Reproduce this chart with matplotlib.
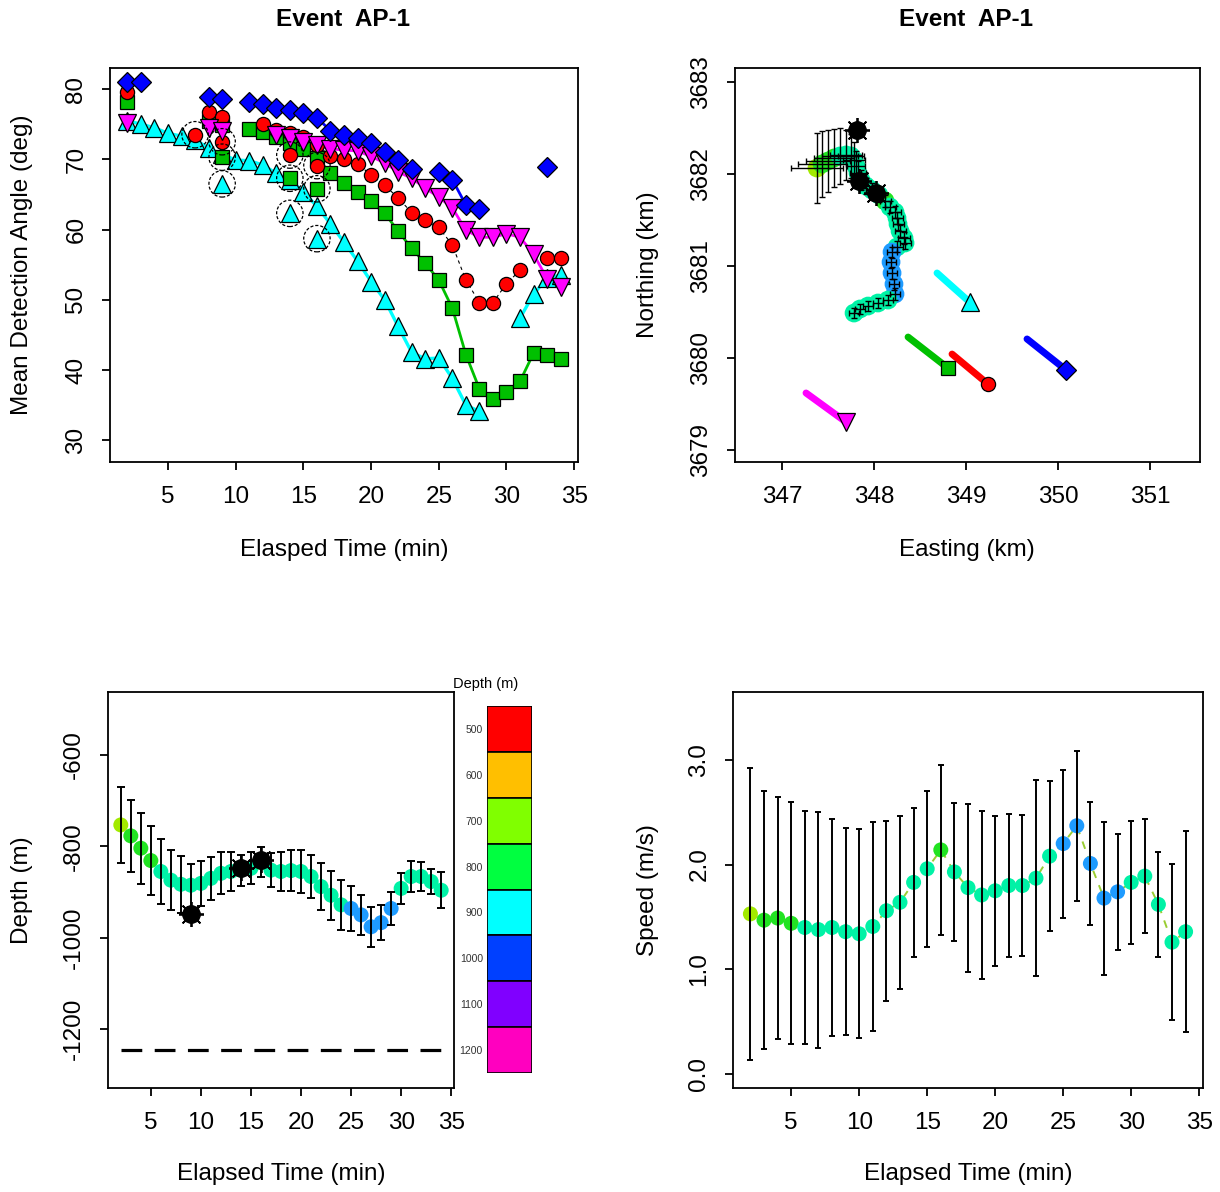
import numpy as np
import matplotlib
matplotlib.use("Agg")
import matplotlib.pyplot as plt
from matplotlib.colors import ListedColormap, BoundaryNorm

plt.rcParams['font.family'] = ['Liberation Sans', 'DejaVu Sans']
plt.rcParams['axes.linewidth'] = 1.3
plt.rcParams['axes.unicode_minus'] = False

nan = np.nan
minutes = np.arange(2, 35)

# ---------------- mean detection angle per receiver (deg) ----------------
angle_blue = [81.0, 81.0, nan, nan, nan, nan, 78.9, 78.6, nan, 78.1, 77.9, 77.3, 77.0,
              76.6, 75.9, 74.1, 73.5, 73.0, 72.3, 71.0, 69.9, 68.6, nan, 68.2, 67.1,
              63.5, 62.9, nan, nan, nan, nan, 68.9, nan]
angle_red = [79.6, nan, nan, nan, nan, nan, 76.7, 76.0, nan, nan, 75.0, 74.2, 73.7,
             73.2, 72.0, 70.5, 70.0, 69.3, 67.8, 66.3, 64.5, 62.4, 61.3, 60.3, 57.8,
             52.8, 49.6, 49.6, 52.3, 54.2, nan, 56.0, 56.0]
angle_green = [78.2, nan, nan, nan, nan, nan, 75.5, 74.9, nan, 74.3, 73.9, 73.2, 72.3,
               71.4, 70.2, 68.0, 66.6, 65.3, 64.0, 62.3, 59.8, 57.3, 55.2, 52.8, 48.8,
               42.2, 37.3, 35.8, 36.9, 38.4, 42.4, 42.1, 41.6]
angle_magenta = [75.2, nan, nan, nan, nan, nan, 74.4, 74.0, nan, nan, nan, 73.4, 73.0,
                 72.5, 72.0, 71.5, 71.3, 71.2, 70.4, 69.5, 68.2, 67.3, 65.9, 64.6, 63.1,
                 59.9, 58.9, 58.9, 59.4, 58.9, 56.5, 53.0, 51.8]
angle_cyan = [75.5, 75.0, 74.5, 73.7, 73.3, 72.8, 71.6, 70.7, 69.9, 69.8, 69.2, 68.0,
              67.0, 65.4, 63.3, 60.8, 58.2, 55.5, 52.6, 50.0, 46.2, 42.5, 41.6, 41.7,
              38.8, 35.0, 34.1, nan, nan, 47.4, 50.8, 53.1, 53.5]

# flagged detections (ringed)
flag_red_minutes = [7, 9, 14, 16]
flag_red = [73.5, 72.5, 70.6, 69.1]
flag_minutes = [9, 14, 16]
flag_green = [70.3, 67.3, 65.8]
flag_cyan = [66.5, 62.3, 58.7]

# ---------------- track (km) ----------------
track_e = [347.380, 347.435, 347.500, 347.565, 347.630, 347.696, 347.750, 347.783,
           347.804, 347.826, 347.859, 347.913, 347.978, 348.054, 348.120, 348.174,
           348.228, 348.250, 348.261, 348.283, 348.326, 348.337, 348.250, 348.196,
           348.185, 348.196, 348.217, 348.228, 348.152, 348.043, 347.935, 347.848,
           347.783]
track_n = [3682.065, 3682.109, 3682.141, 3682.174, 3682.196, 3682.207, 3682.196,
           3682.152, 3682.087, 3682.011, 3681.935, 3681.870, 3681.826, 3681.772,
           3681.707, 3681.641, 3681.587, 3681.522, 3681.457, 3681.380, 3681.304,
           3681.250, 3681.207, 3681.152, 3681.043, 3680.924, 3680.804, 3680.696,
           3680.630, 3680.598, 3680.565, 3680.533, 3680.489]
track_err_e = [0.28, 0.26, 0.24, 0.22, 0.20, 0.17, 0.14, 0.12, 0.10, 0.09, 0.08, 0.07,
               0.07, 0.06, 0.06, 0.06, 0.06, 0.06, 0.06, 0.06, 0.06, 0.06, 0.06, 0.05,
               0.05, 0.05, 0.05, 0.05, 0.05, 0.05, 0.05, 0.05, 0.05]
track_err_n = [0.38, 0.36, 0.34, 0.32, 0.30, 0.27, 0.24, 0.20, 0.16, 0.13, 0.11, 0.09,
               0.08, 0.08, 0.07, 0.07, 0.07, 0.07, 0.07, 0.07, 0.07, 0.06, 0.06, 0.06,
               0.06, 0.06, 0.06, 0.06, 0.05, 0.05, 0.05, 0.05, 0.05]
fix_e = [347.815, 347.837, 348.022]
fix_n = [3682.478, 3681.924, 3681.793]

# receiver drift (start -> end), order: cyan, green, red, blue, magenta
rx_start_e = [348.685, 348.370, 348.848, 349.663, 347.261]
rx_start_n = [3680.924, 3680.228, 3680.043, 3680.207, 3679.620]
rx_end_e = [349.038, 348.804, 349.239, 350.087, 347.696]
rx_end_n = [3680.609, 3679.891, 3679.717, 3679.870, 3679.304]

# ---------------- depth (m) ----------------
depth = [-753, -777, -804, -831, -855, -874, -883, -885, -881, -870, -859, -855, -852,
         -848, -835, -852, -855, -853, -855, -866, -888, -907, -928, -936, -950, -976,
         -967, -936, -892, -866, -866, -877, -896]
depth_err = [83, 78, 78, 76, 72, 65, 62, 47, 49, 47, 46, 42, 34, 35, 33, 38, 43, 45, 47,
             47, 51, 54, 55, 49, 44, 44, 38, 37, 34, 33, 31, 27, 39]
fix_minutes = [9, 14, 16]
fix_depth = [-947, -848, -830]
seafloor = -1245

# ---------------- speed (m/s) ----------------
speed = [1.53, 1.47, 1.49, 1.44, 1.40, 1.38, 1.40, 1.36, 1.34, 1.41, 1.56, 1.64, 1.83,
         1.96, 2.14, 1.93, 1.78, 1.71, 1.75, 1.80, 1.80, 1.87, 2.08, 2.20, 2.37, 2.01,
         1.68, 1.74, 1.83, 1.89, 1.62, 1.26, 1.36]
speed_err = [1.390, 1.229, 1.152, 1.154, 1.110, 1.124, 1.033, 0.989, 0.997, 0.992, 0.857,
             0.825, 0.712, 0.743, 0.810, 0.659, 0.802, 0.797, 0.713, 0.682, 0.673, 0.937,
             0.714, 0.705, 0.714, 0.588, 0.730, 0.551, 0.584, 0.540, 0.503, 0.743, 0.956]

# depth legend
legend_depths = [500, 600, 700, 800, 900, 1000, 1100, 1200]
legend_colors = ["#FF0000", "#FFBF00", "#80FF00", "#00FF40", "#00FFFF", "#0040FF",
                 "#8000FF", "#FF00BF"]

# depth classes used to colour the animal positions
class_edges = [-1300, -932, -840, -765, -400]
class_colors = ["#1E9BFF", "#00F2A6", "#22E322", "#A2EA00"]
depth_cmap = ListedColormap(class_colors)
depth_norm = BoundaryNorm(class_edges, depth_cmap.N)
point_colors = depth_cmap(depth_norm(np.array(depth)))

W, H = 1220, 1192
FS = 17.5
fig = plt.figure(figsize=(W / 100, H / 100), dpi=100)


def px_axes(l, t, r, b):
    return fig.add_axes([l / W, 1 - b / H, (r - l) / W, (b - t) / H])


def style(ax):
    ax.tick_params(direction='out', length=5.8, width=1.3, labelsize=FS)
    ax.tick_params(axis='x', pad=11.5)
    ax.tick_params(axis='y', pad=10.5, labelrotation=90)
    for lab in ax.get_yticklabels():
        lab.set_va('center')


def label(x, y, s, rot=0, **kw):
    fig.text(x / W, 1 - y / H, s, ha='center', va='center', rotation=rot,
             fontsize=FS, **kw)


# ================= detection angle =================
ax1 = px_axes(110, 68, 578, 462)
t = minutes
ax1.plot(t, angle_cyan, color='cyan', lw=2.4, zorder=2)
ax1.plot(t, angle_green, color='#00C000', lw=2.0, zorder=2)
ax1.plot(t, angle_red, color='black', lw=0.8, ls=(0, (3, 3)), zorder=2)
ax1.plot(t, angle_magenta, color='magenta', lw=2.0, zorder=2)
ax1.plot(t, angle_blue, color='blue', lw=2.0, zorder=2)

mk = dict(ls='none', mec='black', mew=0.9)
ax1.plot(t, angle_cyan, marker='^', ms=12.5, mfc='cyan', zorder=3, **mk)
ax1.plot(flag_minutes, flag_cyan, marker='^', ms=12.5, mfc='cyan', zorder=3, **mk)
ax1.plot(t, angle_green, marker='s', ms=9.8, mfc='#00C000', zorder=4, **mk)
ax1.plot(flag_minutes, flag_green, marker='s', ms=9.8, mfc='#00C000', zorder=4, **mk)
ax1.plot(t, angle_red, marker='o', ms=10.2, mfc='red', zorder=5, **mk)
ax1.plot(flag_red_minutes, flag_red, marker='o', ms=10.2, mfc='red', zorder=5, **mk)
ax1.plot(t, angle_magenta, marker='v', ms=12.5, mfc='magenta', zorder=6, **mk)
ax1.plot(t, angle_blue, marker='D', ms=9.8, mfc='blue', zorder=7, **mk)

ring_x = flag_red_minutes + flag_minutes + flag_minutes
ring_y = flag_red + flag_green + flag_cyan
ax1.scatter(ring_x, ring_y, s=19 ** 2, facecolors='none', edgecolors='black',
            linewidths=0.9, linestyles=(0, (2.5, 1.5)), zorder=8)

ax1.set_xlim(0.72, 35.28)
ax1.set_ylim(26.9, 83.0)
ax1.set_xticks([5, 10, 15, 20, 25, 30, 35])
ax1.set_yticks([30, 40, 50, 60, 70, 80])
style(ax1)
label(343, 19, "Event  AP-1", fontweight='bold')
label(344, 550, "Elasped Time (min)")
label(22, 265, "Mean Detection Angle (deg)", rot=90)

# ================= plan view =================
ax2 = px_axes(735, 68, 1200, 462)
rx_colors = ['cyan', '#00C000', 'red', 'blue', 'magenta']
rx_markers = [('^', 12.5), ('s', 9.8), ('o', 10.2), ('D', 9.8), ('v', 12.5)]
for i in range(5):
    ax2.plot([rx_start_e[i], rx_end_e[i]], [rx_start_n[i], rx_end_n[i]],
             color=rx_colors[i], lw=5, solid_capstyle='round', zorder=2)
    m, s = rx_markers[i]
    ax2.plot(rx_end_e[i], rx_end_n[i], marker=m, ms=s, mfc=rx_colors[i], zorder=3, **mk)

ax2.scatter(track_e, track_n, c=point_colors, s=13.5 ** 2, edgecolors='none', zorder=3)
ax2.errorbar(track_e, track_n, xerr=track_err_e, yerr=track_err_n, fmt='none',
             ecolor='black', elinewidth=1.0, capsize=2.2, capthick=1.0, zorder=4)
ax2.plot(fix_e, fix_n, 'o', color='black', ms=12.5, zorder=6)
ax2.plot(fix_e, fix_n, ls='none', marker=(8, 2, 0), color='black', ms=18, mew=1.3,
         zorder=6)

ax2.set_xlim(346.489, 351.543)
ax2.set_ylim(3678.870, 3683.152)
ax2.set_xticks([347, 348, 349, 350, 351])
ax2.set_yticks([3679, 3680, 3681, 3682, 3683])
style(ax2)
label(966, 19, "Event  AP-1", fontweight='bold')
label(967, 550, "Easting (km)")
label(648, 265, "Northing (km)", rot=90)

# ================= depth =================
ax3 = px_axes(108, 692, 454, 1088)
ax3.plot([minutes[0], minutes[-1]], [seafloor, seafloor], color='black', lw=2.3,
         dashes=(6.5, 3.9), zorder=2)
ax3.scatter(minutes, depth, c=point_colors, s=10.8 ** 2, edgecolors='none', zorder=3)
ax3.errorbar(minutes, depth, yerr=depth_err, fmt='none', ecolor='black',
             elinewidth=1.4, capsize=2.6, capthick=1.4, zorder=4)
ax3.plot(fix_minutes, fix_depth, 'o', color='black', ms=12.5, zorder=6)
ax3.plot(fix_minutes, fix_depth, ls='none', marker=(8, 2, 0), color='black', ms=18,
         mew=1.3, zorder=6)
ax3.set_xlim(0.72, 35.28)
ax3.set_ylim(-1329, -462)
ax3.set_xticks([5, 10, 15, 20, 25, 30, 35])
ax3.set_yticks([-600, -800, -1000, -1200])
style(ax3)
label(281, 1174, "Elapsed Time (min)")
label(22, 890, "Depth (m)", rot=90)

# depth legend
ax5 = px_axes(487, 706, 532, 1073)
for i, (d, c) in enumerate(zip(legend_depths, legend_colors)):
    ax5.bar(0, 1, bottom=i, width=1, color=c, edgecolor='black', linewidth=1.2)
ax5.set_xlim(-0.5, 0.5)
ax5.set_ylim(len(legend_depths), 0)
ax5.set_xticks([])
ax5.set_yticks(np.arange(len(legend_depths)) + 0.5)
ax5.set_yticklabels([str(d) for d in legend_depths])
ax5.tick_params(axis='y', length=0, labelsize=7.5, pad=3, labelcolor='#333333')
for sp in ax5.spines.values():
    sp.set_visible(False)
fig.text(486 / W, 1 - 684 / H, "Depth (m)", ha='center', va='center', fontsize=10.5)

# ================= speed =================
ax4 = px_axes(733, 692, 1203, 1088)
ax4.plot(minutes, speed, color='#9ACD32', lw=1.4, dashes=(4, 4), zorder=2)
ax4.scatter(minutes, speed, c=point_colors, s=10.8 ** 2, edgecolors='none', zorder=3)
ax4.errorbar(minutes, speed, yerr=speed_err, fmt='none', ecolor='black',
             elinewidth=1.4, capsize=2.4, capthick=1.4, zorder=4)
ax4.set_xlim(0.72, 35.28)
ax4.set_ylim(-0.13, 3.645)
ax4.set_xticks([5, 10, 15, 20, 25, 30, 35])
ax4.set_yticks([0, 1, 2, 3])
ax4.set_yticklabels(["0.0", "1.0", "2.0", "3.0"])
style(ax4)
label(968, 1174, "Elapsed Time (min)")
label(648, 890, "Speed (m/s)", rot=90)

fig.savefig("out.png", dpi=100)
